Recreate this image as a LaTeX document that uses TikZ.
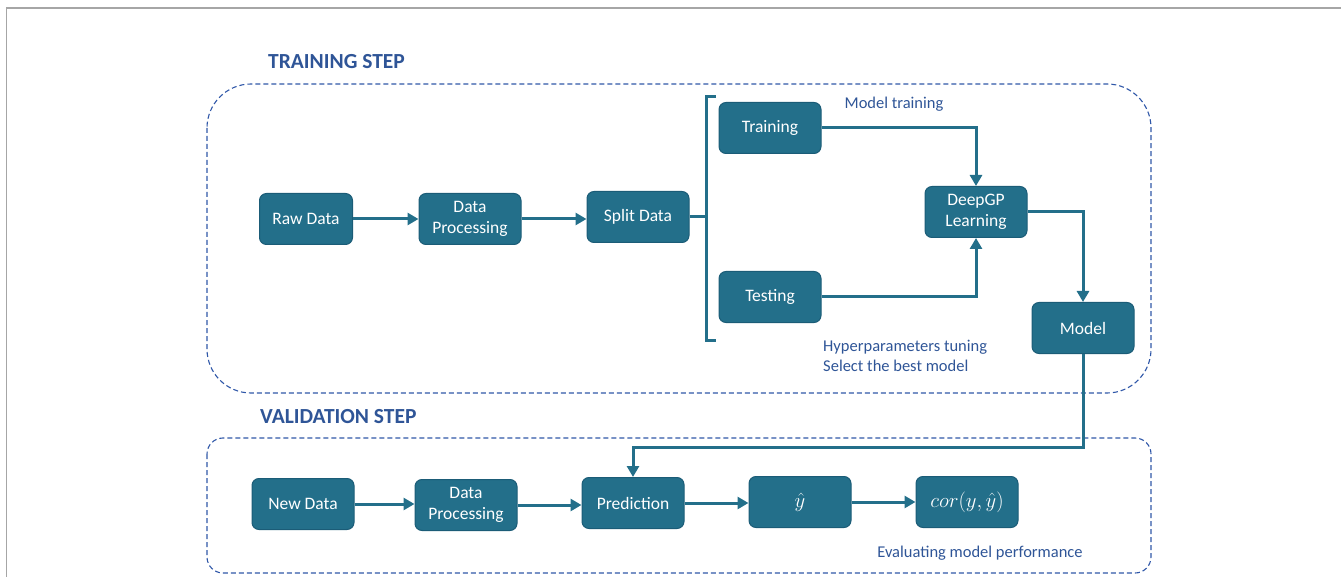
\documentclass[tikz,border=0pt]{standalone}
\usepackage{fontspec}
\setmainfont{Carlito}
\usetikzlibrary{arrows.meta}
\definecolor{boxfill}{HTML}{236F8A}
\definecolor{boxline}{HTML}{1B5C77}
\definecolor{titleblue}{HTML}{2F5597}
\definecolor{dashblue}{HTML}{2F57A8}
\definecolor{framegray}{HTML}{A6A6A6}
\begin{document}
\begin{tikzpicture}[x=1pt,y=-1pt,
  proc/.style={draw=boxline, line width=1pt, fill=boxfill, rounded corners=7pt,
    minimum width=102pt, minimum height=51pt, text=white,
    font=\fontsize{17.5}{21}\selectfont, align=center, inner sep=0pt},
  mathtext/.style={font=\fontsize{22}{26}\selectfont},
  flow/.style={draw=boxfill, line width=3pt, -{Triangle[length=11pt,width=12pt]}},
  plainline/.style={draw=boxfill, line width=3pt},
  steptitle/.style={text=titleblue, font=\fontsize{21.5}{25}\selectfont\bfseries, anchor=west, inner sep=0pt},
  lbl/.style={text=titleblue, font=\fontsize{16.5}{20}\selectfont, inner sep=0pt},
  region/.style={draw=dashblue, line width=1.1pt, dash pattern=on 5pt off 3pt}
]
\useasboundingbox (0,0) rectangle (1341,577);
% frame
\draw[framegray, line width=1.5pt] (1341,8) -- (6.5,8) -- (6.5,577);

% titles
\node[steptitle] (ttrain) at (268,62) {TRAINING STEP};
\node[steptitle] (tval) at (260,417) {VALIDATION STEP};

% regions
\draw[region, rounded corners=44pt] (207,84) rectangle (1151,393);
\draw[region, rounded corners=16pt] (207,438) rectangle (1151,573);

% training nodes
\node[proc, minimum width=93pt] (raw) at (306,219) {Raw Data};
\node[proc] (dp1) at (470,219) {Data\\Processing};
\node[proc] (split) at (638,217) {Split Data};
\node[proc] (train) at (770,128) {Training};
\node[proc] (test) at (770,297) {Testing};
\node[proc] (deep) at (976,212) {DeepGP\\Learning};
\node[proc] (model) at (1083,328) {Model};

% labels
\node[lbl] (mt) at (894,104) {Model training};
\node[lbl, anchor=north west, align=left] (hyp) at (823,340) {Hyperparameters tuning\\Select the best model};

% bracket
\coordinate (brt) at (706,97);
\coordinate (brb) at (706,340);
\coordinate (brm) at (706,217);
\draw[plainline] (716,97) -- (brt) -- (brb) -- (716,340);
\draw[plainline] (split.east) -- (brm);

% training arrows
\draw[flow] (raw.east) -- (dp1.west);
\draw[flow] (dp1.east) -- (split.west |- dp1.east);
\draw[flow] (train.east) -| (deep.north);
\draw[flow] (test.east) -| (deep.south);
\draw[flow] (deep.east) -| (model.north);

% validation nodes
\node[proc] (new) at (303,504) {New Data};
\node[proc] (dp2) at (466,505) {Data\\Processing};
\node[proc] (pred) at (633,503) {Prediction};
\node[proc, mathtext] (yhat) at (800,502) {$\hat{y}$};
\node[proc, mathtext] (cor) at (967,502) {$cor(y,\hat{y})$};
\node[lbl] (eval) at (980,553) {Evaluating model performance};

% validation arrows
\coordinate (turn) at (1083,447);
\draw[flow] (model.south) -- (turn) -| (pred.north);
\draw[flow] (new.east) -- (dp2.west |- new.east);
\draw[flow] (dp2.east) -- (pred.west |- dp2.east);
\draw[flow] (pred.east) -- (yhat.west |- pred.east);
\draw[flow] (yhat.east) -- (cor.west);
\end{tikzpicture}
\end{document}
